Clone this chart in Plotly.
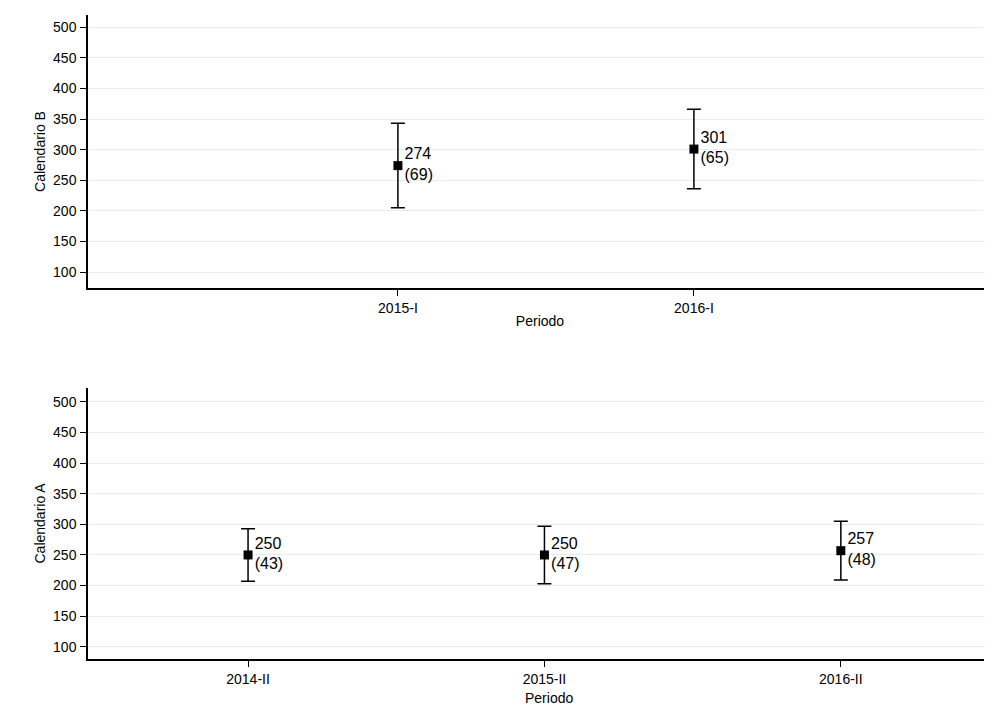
import plotly.graph_objects as go
from plotly.subplots import make_subplots

top_periods = ["2015-I", "2016-I"]
top_means = [274, 301]
top_sd = [69, 65]
bot_periods = ["2014-II", "2015-II", "2016-II"]
bot_means = [250, 250, 257]
bot_sd = [43, 47, 48]
yticks = [100, 150, 200, 250, 300, 350, 400, 450, 500]

fig = make_subplots(rows=2, cols=1)
F = dict(family="Liberation Sans, Arial, sans-serif", color="black")

def add(periods, means, sd, row):
    xs = list(range(len(periods)))
    fig.add_trace(go.Scatter(
        x=xs, y=means, mode="markers+text",
        marker=dict(symbol="square", size=9, color="black"),
        error_y=dict(type="data", array=sd, color="black", thickness=1.5, width=7),
        text=[f"{m}<br>({s})" for m, s in zip(means, sd)],
        textposition="middle right", textfont=dict(size=16, **F),
        cliponaxis=False, showlegend=False), row=row, col=1)

add(top_periods, top_means, top_sd, 1)
add(bot_periods, bot_means, bot_sd, 2)

ax = dict(showline=True, linecolor="black", linewidth=1.5, ticks="outside", ticklen=6,
          tickcolor="black", tickfont=dict(size=14, **F), zeroline=False, automargin=False)
fig.update_xaxes(**ax, showgrid=False)
fig.update_yaxes(**ax, showgrid=True, gridcolor="#e3eef1", tickvals=yticks, ticklabelstandoff=1)
fig.update_xaxes(range=[-1.047, 2.007], tickvals=[0, 1], ticktext=top_periods, domain=[0, 1],
                 title=dict(text="Periodo", font=dict(size=14, **F), standoff=2), row=1, col=1)
fig.update_xaxes(range=[-0.54, 2.51], tickvals=[0, 1, 2], ticktext=bot_periods, domain=[0, 1],
                 row=2, col=1)
fig.update_yaxes(range=[74, 520], domain=[0.576, 1],
                 title=dict(text="Calendario B", font=dict(size=14, **F), standoff=4), row=1, col=1)
fig.update_yaxes(range=[80, 523], domain=[0, 0.421],
                 title=dict(text="Calendario A", font=dict(size=14, **F), standoff=4), row=2, col=1)
fig.add_annotation(text="Periodo", xref="paper", yref="paper", x=0.51, y=-0.045,
                   yanchor="top", showarrow=False, font=dict(size=14, **F))
fig.update_layout(width=992, height=705, margin=dict(l=80, r=8, t=7, b=54),
                  plot_bgcolor="white", paper_bgcolor="white")
fig.write_html("out.html")
